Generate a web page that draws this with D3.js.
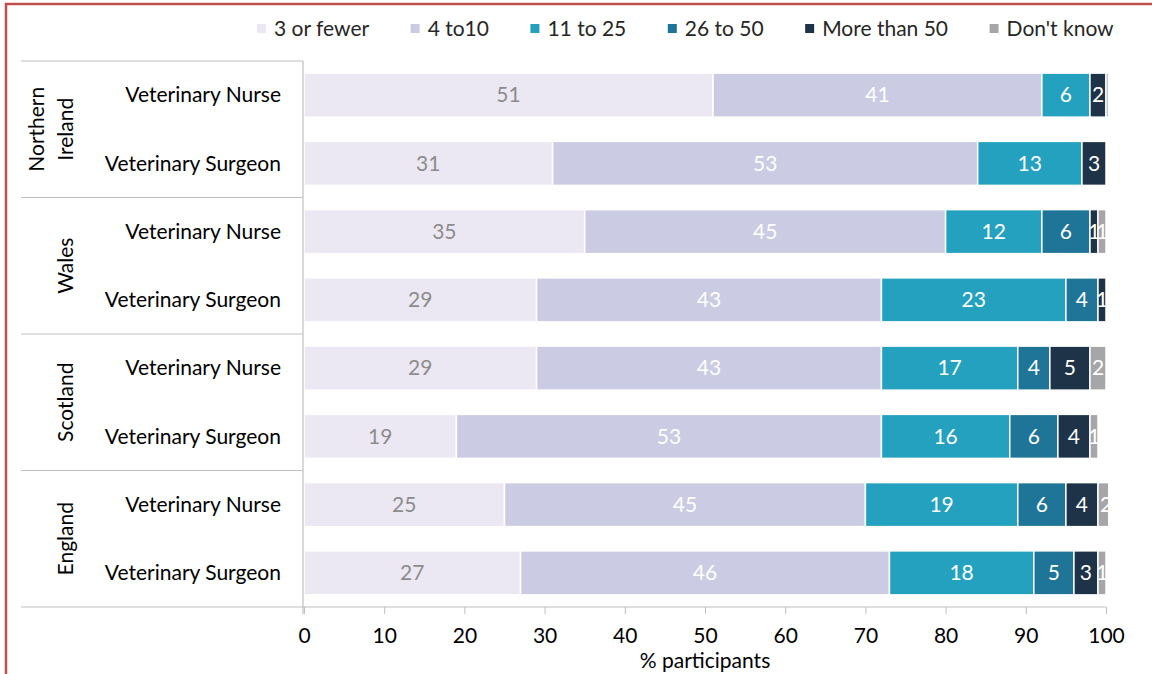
<!DOCTYPE html>
<html>
<head>
<meta charset="utf-8">
<script src="https://cdn.jsdelivr.net/npm/d3@7"></script>
<style>
  html, body { margin: 0; padding: 0; background: #fff; }
  svg { display: block; font-family: Lato, "Open Sans", sans-serif; }
</style>
</head>
<body>
<svg id="chart" width="1152" height="674"></svg>
<script>
// Number of practices / clients categories by nation and role (% participants)
const groups = ["Northern Ireland", "Wales", "Scotland", "England"];
const roles = ["Veterinary Nurse", "Veterinary Surgeon"];
const seriesNames = ["3 or fewer", "4 to10", "11 to 25", "26 to 50", "More than 50", "Don't know"];
const seriesColors = ["#ece8f3", "#cbcbe3", "#23a1bf", "#1f7598", "#1e3347", "#a6a6a9"];

// one value per row: NI nurse, NI surgeon, Wales nurse, Wales surgeon, ...
const threeOrFewer = [51, 31, 35, 29, 29, 19, 25, 27];
const fourTo10     = [41, 53, 45, 43, 43, 53, 45, 46];
const elevenTo25   = [6, 13, 12, 23, 17, 16, 19, 18];
const twentySixTo50 = [0, 0, 6, 4, 4, 6, 6, 5];
const moreThan50   = [2, 3, 1, 1, 5, 4, 4, 3];
const dontKnow     = [0.3, 0, 1, 0, 2, 1, 2, 1];

const xTicks = [0, 10, 20, 30, 40, 50, 60, 70, 80, 90, 100];
const xTitle = "% participants";

const seriesValues = [threeOrFewer, fourTo10, elevenTo25, twentySixTo50, moreThan50, dontKnow];

// rows table built from the arrays above
const rows = [];
groups.forEach((g, gi) => roles.forEach((r, ri) => {
  const i = gi * roles.length + ri;
  const row = { id: g + "|" + r, group: g, role: r };
  seriesNames.forEach((s, si) => { row[s] = seriesValues[si][i]; });
  rows.push(row);
}));

const svg = d3.select("#chart");
const FONT = 21;

// outer frame
svg.append("path")
  .attr("d", "M6,674 L6,4 L1152,4")
  .attr("fill", "none").attr("stroke", "#c0504d").attr("stroke-width", 2.5);

const plot = { left: 304, right: 1106, top: 61, bottom: 607 };

const x = d3.scaleLinear().domain([0, 100]).range([plot.left, plot.right]);
const y = d3.scaleBand().domain(rows.map(d => d.id)).range([plot.top, plot.bottom]).paddingInner(0.355).paddingOuter(0.1775);
const color = d3.scaleOrdinal().domain(seriesNames).range(seriesColors);

const stacked = d3.stack().keys(seriesNames)(rows);

svg.append("clipPath").attr("id", "plotClip")
  .append("rect").attr("x", plot.left).attr("y", plot.top - 5)
  .attr("width", plot.right - plot.left + 2).attr("height", plot.bottom - plot.top + 5);

const barsG = svg.append("g").attr("clip-path", "url(#plotClip)");

const layer = barsG.selectAll("g.layer").data(stacked).join("g")
  .attr("class", "layer").attr("fill", d => color(d.key));

layer.selectAll("rect").data(d => d.map(p => ({ p, key: d.key }))).join("rect")
  .filter(d => d.p[1] - d.p[0] > 0)
  .attr("x", d => x(d.p[0]))
  .attr("y", d => y(d.p.data.id))
  .attr("width", d => x(d.p[1]) - x(d.p[0]))
  .attr("height", y.bandwidth())
  .attr("stroke", "#fff").attr("stroke-width", 1.5);

// value labels
layer.selectAll("text").data(d => d.map(p => ({ p, key: d.key }))).join("text")
  .filter(d => d.p[1] - d.p[0] >= 1)
  .attr("x", d => (x(d.p[0]) + x(d.p[1])) / 2)
  .attr("y", d => y(d.p.data.id) + y.bandwidth() / 2)
  .attr("dy", "0.35em")
  .attr("text-anchor", "middle")
  .attr("font-size", FONT)
  .attr("fill", d => d.key === seriesNames[0] ? "#8c8c8c" : "#ffffff")
  .text(d => d3.format("d")(d.p[1] - d.p[0]));

// x axis
const xAxis = svg.append("g").attr("transform", `translate(0,${plot.bottom})`)
  .call(d3.axisBottom(x).tickValues(xTicks).tickSize(7).tickPadding(14).tickSizeOuter(0));
xAxis.select(".domain").remove();
xAxis.selectAll(".tick line").attr("stroke", "#bfbfbf");
xAxis.selectAll(".tick text").attr("font-size", FONT).attr("fill", "#000").attr("font-family", "Lato, sans-serif");

const lineColor = "#bfbfbf";
// baseline across the category area and plot
svg.append("line").attr("x1", 21).attr("x2", plot.right).attr("y1", plot.bottom).attr("y2", plot.bottom)
  .attr("stroke", lineColor).attr("stroke-width", 1.2);
// vertical category axis line
svg.append("line").attr("x1", plot.left - 1).attr("x2", plot.left - 1).attr("y1", plot.top).attr("y2", plot.bottom + 7)
  .attr("stroke", lineColor).attr("stroke-width", 1.2);

// group separators
const groupStep = (plot.bottom - plot.top) / groups.length;
d3.range(groups.length).forEach(i => {
  svg.append("line").attr("x1", 21).attr("x2", plot.left - 1)
    .attr("y1", plot.top + i * groupStep).attr("y2", plot.top + i * groupStep)
    .attr("stroke", lineColor).attr("stroke-width", 1.2);
});

// role labels
svg.append("g").selectAll("text").data(rows).join("text")
  .attr("x", 281)
  .attr("y", d => y(d.id) + y.bandwidth() / 2)
  .attr("dy", "0.35em")
  .attr("text-anchor", "end")
  .attr("font-size", FONT)
  .attr("fill", "#000")
  .text(d => d.role);

// group labels (rotated, wrapped for long names)
groups.forEach((g, i) => {
  const cy = plot.top + (i + 0.5) * groupStep;
  const words = g.split(" ");
  const lineH = 29;
  const t = svg.append("text")
    .attr("transform", `translate(${66},${cy}) rotate(-90)`)
    .attr("text-anchor", "middle")
    .attr("font-size", FONT)
    .attr("fill", "#000");
  words.forEach((w, wi) => {
    t.append("tspan").attr("x", 0)
      .attr("y", (wi - (words.length - 1)) * lineH)
      .attr("dy", "0.35em")
      .text(w);
  });
});

// axis title
svg.append("text")
  .attr("x", (plot.left + plot.right) / 2).attr("y", 668)
  .attr("text-anchor", "middle").attr("font-size", FONT).attr("fill", "#000")
  .text(xTitle);

// legend
const legend = svg.append("g").attr("transform", "translate(257,29)");
let lx = 0;
seriesNames.forEach((s, i) => {
  const item = legend.append("g").attr("transform", `translate(${lx},0)`);
  item.append("rect").attr("x", 0).attr("y", -5).attr("width", 9).attr("height", 9).attr("fill", seriesColors[i]);
  const t = item.append("text").attr("x", 17).attr("dy", "0.35em").attr("font-size", FONT).attr("fill", "#262626").text(s);
  lx += 17 + t.node().getComputedTextLength() + 41.5;
});
</script>
</body>
</html>
